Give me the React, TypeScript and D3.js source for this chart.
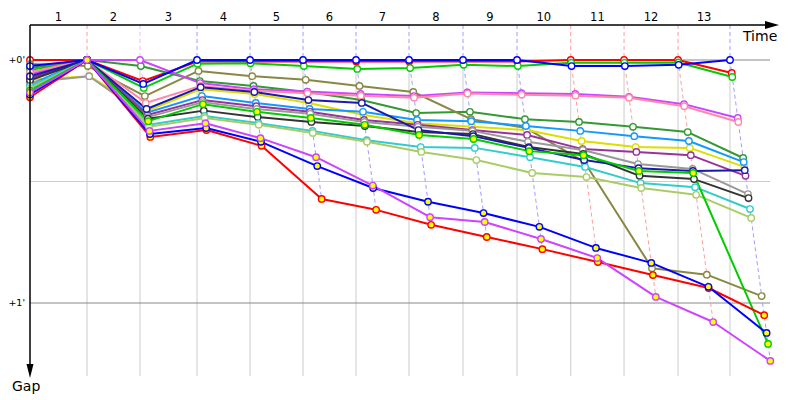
import React from 'react';
import * as d3 from 'd3';

// lap labels along the top (time) axis
const lapLabels = ['1', '2', '3', '4', '5', '6', '7', '8', '9', '10', '11', '12', '13'];
// leader lap times in seconds
const leaderLapTimes = [105, 97.6, 105, 97.6, 97.6, 97.6, 97.6, 99.4, 99.5, 98.9, 98.2, 99.4, 95.7];
// gap ticks (seconds)
const gapTicks = [0, 30, 60];
const gapTickLabels = ["+0'", '', "+1'"];

// gap to the leader in seconds, lap 0 (start) .. lap 13
const red = [0, 0, 5.2, 0.4, 0.4, 0.4, 0.4, 0.4, 0.4, 0.4, 0, 0, 0, 3.2];
const blue = [1.5, 0, 5.9, 0, 0, 0, 0, 0, 0, 0, 1.5, 1.5, 1.2, 0];
const green = [2.5, 0, 6.9, 0.9, 0.8, 1.5, 2.2, 2.0, 1.2, 1.5, 0.7, 0.7, 0.6, 4.2];
const darkGreen = [2.0, 0, 1.5, 5.2, 6.4, 7.9, 9.9, 13.1, 12.8, 14.6, 15.3, 16.5, 17.8, 24.2];
const olive = [1.0, 1.5, 8.9, 2.7, 4.0, 4.9, 6.4, 7.9, 14.6, 16.8, 25.2, 51.4, 53, 58.3];
const pink = [3.0, 0, 10.6, 6.4, 7.6, 8.2, 8.8, 9.3, 8.3, 8.6, 8.8, 9.3, 11.4, 15.3];
const magenta = [3.5, 0, 0, 5.7, 7.2, 7.8, 8.4, 8.9, 8.0, 8.2, 8.4, 9.1, 10.9, 14.3];
const yellow = [4.9, 4.0, 12.6, 7.2, 8.4, 10.6, 13.6, 15.6, 16.5, 17.3, 20, 21.5, 21.7, 26.4];
const skyBlue = [6.0, 0, 13.0, 8.9, 10.6, 12.1, 12.8, 14.8, 15.1, 16.3, 17.5, 18.8, 20, 25.2];
const purple = [4.5, 0, 13.6, 9.9, 11.4, 12.8, 14.8, 16.0, 17.3, 18.5, 22, 22.7, 23.5, 28.6];
const gray = [5.5, 4.0, 14.1, 10.4, 12.1, 13.3, 15.3, 16.5, 17.5, 20.2, 22.2, 25.7, 26.9, 33.1];
const black = [5.0, 0, 14.5, 12.5, 14.1, 15.3, 16.3, 17.8, 18.3, 21.5, 23.2, 28.6, 29.4, 34.1];
const teal = [6.5, 0, 16.0, 13.8, 15.6, 17.5, 19.8, 21.5, 21.7, 24.0, 26.4, 30.4, 31.4, 36.8];
const lightGreen = [7.0, 0, 16.5, 14.3, 16.0, 18.0, 20.2, 22.7, 24.7, 27.9, 28.9, 31.6, 33.3, 39.0];
const navy = [4.0, 0, 12.1, 6.7, 7.9, 9.9, 10.6, 17.3, 18.8, 21.7, 24.7, 26.7, 27.4, 27.2];
const greenY = [7.5, 0, 15.1, 10.9, 12.8, 14.3, 16.0, 18.5, 19.5, 22.5, 23.5, 27.4, 27.9, 70.1];
const redY = [9.2, 0, 19.0, 17.3, 21.2, 34.3, 37.0, 40.7, 43.7, 46.7, 49.9, 53.1, 56.3, 63.0];
const blueY = [8.5, 0, 18.3, 16.8, 20.2, 26.2, 31.6, 35.0, 37.8, 41.2, 46.4, 50.1, 56.0, 67.4];
const magentaY = [8.0, 0, 17.5, 15.6, 19.3, 24.0, 31.0, 38.8, 40.0, 44.2, 48.9, 58.5, 64.7, 74.3];

const drivers = [
    { color: '#ff0000', marked: false, gaps: red },
    { color: '#00cc00', marked: false, gaps: green },
    { color: '#339933', marked: false, gaps: darkGreen },
    { color: '#888844', marked: false, gaps: olive },
    { color: '#cc44ff', marked: false, gaps: magenta },
    { color: '#ff88aa', marked: false, gaps: pink },
    { color: '#dddd00', marked: false, gaps: yellow },
    { color: '#1199ff', marked: false, gaps: skyBlue },
    { color: '#993399', marked: false, gaps: purple },
    { color: '#999999', marked: false, gaps: gray },
    { color: '#333333', marked: false, gaps: black },
    { color: '#33cccc', marked: false, gaps: teal },
    { color: '#aacc66', marked: false, gaps: lightGreen },
    { color: '#1a1aaa', marked: false, gaps: navy },
    { color: '#0000ff', marked: false, gaps: blue },
    { color: '#00cc00', marked: true, gaps: greenY },
    { color: '#ff0000', marked: true, gaps: redY },
    { color: '#0000ff', marked: true, gaps: blueY },
    { color: '#cc44ff', marked: true, gaps: magentaY },
];

const W = 800;
const H = 400;
const left = 30;
const top = 25;
const font = '"DejaVu Sans", sans-serif';

const App = () => {
    const cum = [0, ...d3.cumsum(leaderLapTimes)];
    const nLaps = leaderLapTimes.length;

    const x = d3.scaleLinear().domain([0, cum[nLaps]]).range([left, 730]);
    const y = d3.scaleLinear().domain([0, 60]).range([60, 303]);

    const px = (lap, g) => (lap === 0 ? x(0) : x(cum[lap] + g));

    const line = d3
        .line()
        .x((d) => d[0])
        .y((d) => d[1]);

    // leader of each lap -> dashed lap line
    const lapLines = d3.range(1, nLaps + 1).map((k) => {
        const minGap = d3.min(drivers, (d) => d.gaps[k]);
        const leader = drivers.find((d) => d.gaps[k] === minGap);
        const maxGap = d3.max(drivers, (d) => d.gaps[k]);
        const xb = x(cum[k]);
        return {
            k,
            color: d3.interpolateRgb(leader.color, '#ffffff')(0.62),
            d: `M${xb},${top}L${xb},${y(0)}L${px(k, maxGap)},${y(maxGap)}`,
        };
    });

    return (
        <svg width={W} height={H} style={{ position: 'absolute', left: 0, top: 0, background: '#fff' }}>
            {/* lap grid */}
            {d3.range(1, nLaps + 1).map((k) => (
                <line key={'g' + k} x1={x(cum[k])} x2={x(cum[k])} y1={y(0)} y2={376}
                    stroke="#cccccc" strokeWidth={1} />
            ))}
            {gapTicks.map((t, i) => (
                <g key={'t' + t}>
                    <line x1={left} x2={770} y1={y(t)} y2={y(t)}
                        stroke={t % 60 === 0 ? '#888888' : '#cccccc'} strokeWidth={1} />
                    <text x={25} y={y(t)} dy="0.32em" textAnchor="end" fontSize={9.5}
                        fontFamily={font} fill="#000">{gapTickLabels[i]}</text>
                </g>
            ))}

            {lapLines.map((l) => (
                <path key={'l' + l.k} d={l.d} fill="none" stroke={l.color}
                    strokeWidth={1} strokeDasharray="4,3" />
            ))}

            {drivers.map((dr, i) => (
                <path key={'s' + i}
                    d={line(dr.gaps.map((g, k) => [px(k, g), y(g)]))}
                    fill="none" stroke={dr.color} strokeWidth={2} strokeLinejoin="round" />
            ))}
            {drivers.map((dr, i) => (
                <g key={'p' + i}>
                    {dr.gaps.map((g, k) => (
                        <circle key={k} cx={px(k, g)} cy={y(g)} r={3.2}
                            fill={dr.marked ? '#ffff00' : '#ffffff'}
                            stroke={dr.color} strokeWidth={1.4} />
                    ))}
                </g>
            ))}

            {/* axes */}
            <line x1={left} x2={768} y1={top} y2={top} stroke="#000" strokeWidth={1.5} />
            <path d={`M779,${top}L765,${top - 4}L765,${top + 4}Z`} fill="#000" />
            <line x1={left} x2={left} y1={top} y2={368} stroke="#000" strokeWidth={1.5} />
            <path d={`M${left},378L${left - 3.5},364L${left + 3.5},364Z`} fill="#000" />

            {lapLabels.map((lab, i) => (
                <text key={'x' + i} x={(x(cum[i]) + x(cum[i + 1])) / 2} y={21}
                    textAnchor="middle" fontSize={11.5} fontFamily={font} fill="#000">{lab}</text>
            ))}
            <text x={743} y={41} fontSize={14} fontFamily={font} fill="#000">Time</text>
            <text x={12} y={391} fontSize={14} fontFamily={font} fill="#000">Gap</text>
        </svg>
    );
};

export default App;
